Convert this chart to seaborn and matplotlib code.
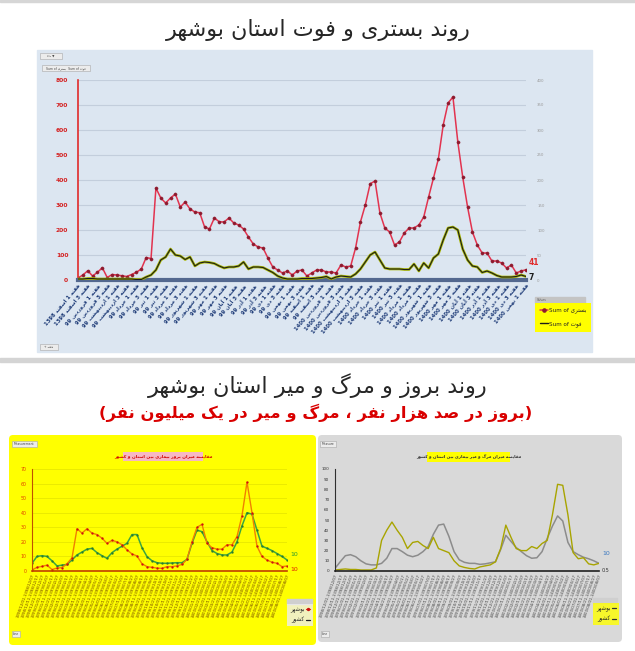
import re
import numpy as np
import pandas as pd
import matplotlib
matplotlib.use('Agg')
import matplotlib.pyplot as plt
import seaborn as sns
from matplotlib.patches import Rectangle, FancyBboxPatch
from matplotlib.lines import Line2D

# %% data - top chart (weekly, Esfand 1398 .. 1400)
hosp = [8, 20, 37, 16, 31, 49, 10, 22, 20, 17, 14, 22, 31, 44, 90, 86, 368,
        328, 308, 328, 344, 292, 312, 284, 272, 269, 212, 204, 248, 233, 232,
        248, 228, 220, 204, 172, 144, 132, 128, 88, 52, 40, 28, 36, 20, 36,
        40, 16, 28, 40, 40, 32, 32, 28, 60, 52, 56, 128, 232, 300, 385, 396,
        268, 208, 192, 140, 152, 188, 208, 208, 220, 252, 332, 408, 484, 620,
        708, 732, 552, 412, 292, 192, 140, 108, 108, 76, 76, 68, 48, 60, 28,
        36, 41]
death = [2, 2, 3, 3, 2, 2, 2, 2, 2, 2, 2, 2, 1, 1,
         6, 10, 20, 40, 46, 62, 50, 48, 41, 46, 28, 34, 36, 35, 33, 28, 24,
         26, 26, 28, 36,
         22, 26, 26, 25, 20, 15, 8, 4, 2, 2, 2, 3, 3, 3, 4,
         5, 7, 2, 6, 8, 7, 6, 12, 22, 36, 50, 56, 40, 24,
         22, 22, 22, 21, 21, 32, 18, 34, 24, 44, 52, 80, 104, 106, 100,
         62, 40, 28, 26, 15, 18, 14, 9, 6, 6, 6, 7, 10, 7]

months = ['اسفند', 'فروردین', 'اردیبهشت', 'خرداد', 'تیر', 'مرداد', 'شهریور',
          'مهر', 'آبان', 'آذر', 'دی', 'بهمن']

# %% data - bottom charts
inc_bushehr = [0.7, 2.5, 3.2, 4, 1, 2, 2.3, 5, 9, 29, 26, 29, 26, 25, 22.5, 19,
               21, 20, 18, 14.5, 11.7, 10.3, 5, 3, 2.5, 2, 1.8, 3, 3, 3.5, 4.5,
               8, 20, 30, 32, 19, 16, 15, 15, 18, 18, 23.6, 38, 61, 40, 17, 10,
               7.5, 6, 5.3, 3, 3.4]
inc_country = [5.3, 10, 10.5, 10, 7, 3.5, 4, 4.5, 7.6, 11, 13, 15, 15.5, 12.6,
               10.5, 8.7, 12.6, 15, 17, 19, 25, 25, 16, 9.9, 7, 5.7, 5.3, 5.3,
               5.5, 5.7, 5.7, 8, 19, 28, 27, 20, 14, 12, 11, 11, 13, 20, 31, 40,
               39, 28, 17, 15.6, 14, 12, 10, 7.6]
mort_bushehr = [1, 1.5, 2, 1.5, 1.5, 1, 1, 1, 3, 30, 40, 48, 40, 33, 22, 28, 29,
                25, 22, 33, 22, 20, 18, 10, 5, 3.5, 2.5, 2, 4, 5, 6, 9, 22, 45,
                33, 22, 20, 20, 24, 22, 27, 30, 55, 85, 84, 55, 18, 12, 13, 7,
                6, 7.5]
mort_country = [2.6, 9, 15, 16, 14, 10, 7, 6, 6, 7.5, 12.5, 22, 22, 19, 15.5, 14,
                15.5, 19, 24, 36, 45, 46, 34, 19, 11, 8.5, 7.5, 7.5, 6.5, 7, 8,
                9, 21, 35, 29, 23, 19, 15, 12.5, 13, 19, 32, 44, 54, 49, 28, 19,
                16, 13.5, 12, 10, 7.5]

# %% persian shaping (no reshaper lib available)
FORMS = {
    'ا': ('\uFE8D', '\uFE8E', None, None),
    'آ': ('\uFE81', '\uFE82', None, None),
    'ب': ('\uFE8F', '\uFE90', '\uFE91', '\uFE92'),
    'ت': ('\uFE95', '\uFE96', '\uFE97', '\uFE98'),
    'خ': ('\uFEA5', '\uFEA6', '\uFEA7', '\uFEA8'),
    'د': ('\uFEA9', '\uFEAA', None, None),
    'ذ': ('\uFEAB', '\uFEAC', None, None),
    'ر': ('\uFEAD', '\uFEAE', None, None),
    'ز': ('\uFEAF', '\uFEB0', None, None),
    'س': ('\uFEB1', '\uFEB2', '\uFEB3', '\uFEB4'),
    'ش': ('\uFEB5', '\uFEB6', '\uFEB7', '\uFEB8'),
    'ص': ('\uFEB9', '\uFEBA', '\uFEBB', '\uFEBC'),
    'ف': ('\uFED1', '\uFED2', '\uFED3', '\uFED4'),
    'ق': ('\uFED5', '\uFED6', '\uFED7', '\uFED8'),
    'ل': ('\uFEDD', '\uFEDE', '\uFEDF', '\uFEE0'),
    'م': ('\uFEE1', '\uFEE2', '\uFEE3', '\uFEE4'),
    'ن': ('\uFEE5', '\uFEE6', '\uFEE7', '\uFEE8'),
    'ه': ('\uFEE9', '\uFEEA', '\uFEEB', '\uFEEC'),
    'و': ('\uFEED', '\uFEEE', None, None),
    'ی': ('\uFBFC', '\uFBFD', '\uFBFE', '\uFBFF'),
    'ک': ('\uFB8E', '\uFB8F', '\uFB90', '\uFB91'),
    'گ': ('\uFB92', '\uFB93', '\uFB94', '\uFB95'),
}


def fa(s):
    out = []
    for i, c in enumerate(s):
        if c not in FORMS:
            out.append(c)
            continue
        f = FORMS[c]
        prev = s[i - 1] if i > 0 else None
        nxt = s[i + 1] if i + 1 < len(s) else None
        jp = prev in FORMS and FORMS[prev][2] is not None
        jn = f[2] is not None and nxt in FORMS
        if jp and jn:
            out.append(f[3])
        elif jp:
            out.append(f[1])
        elif jn:
            out.append(f[2])
        else:
            out.append(f[0])
    vis = ''.join(out)[::-1]
    vis = re.sub(r'[0-9/.]+', lambda m: m.group()[::-1], vis)
    return vis.translate(str.maketrans('()', ')('))


# %% labels
n = len(hosp)
wk = np.arange(n)
top_labels = []
for i in range(n):
    m = i // 4
    yr = '1398' if m == 0 else ('99' if m <= 12 else '1400')
    top_labels.append(fa('هفته %d %s %s' % (i % 4 + 1, months[m % 12], yr)))

nb = len(inc_bushehr)
kb = np.arange(nb)
bot_labels = []
for k in range(nb):
    mm = (k * 21) // nb
    yr = 1398 if mm == 0 else (1399 if mm <= 12 else 1400)
    mo = 12 if mm == 0 else ((mm - 1) % 12 + 1)
    bot_labels.append('%d/%02d/%02d-%d/%02d/%02d' % (yr, mo, 1 + (k % 3) * 10, yr, mo, 7 + (k % 3) * 10))

# %% figure
sns.set_theme(style='white')
plt.rcParams['font.family'] = ['DejaVu Sans']
W, H = 635, 651
fig = plt.figure(figsize=(W / 100, H / 100), dpi=100)
fig.patch.set_facecolor('white')


def rect(x0, y0, x1, y1):
    return [x0 / W, 1 - y1 / H, (x1 - x0) / W, (y1 - y0) / H]


bg = fig.add_axes([0, 0, 1, 1])
bg.set_xlim(0, W)
bg.set_ylim(H, 0)
bg.axis('off')

# panels and separators
bg.add_patch(Rectangle((0, 0), W, 2, color='#d6d6d6'))
bg.add_patch(Rectangle((37, 50), 555, 302, color='#dce6f1'))
bg.add_patch(Rectangle((0, 358), W, 4, color='#d4d4d4'))
bg.add_patch(FancyBboxPatch((9, 435), 307, 210, boxstyle='round,pad=0,rounding_size=4',
                            fc='#ffff00', ec='none'))
bg.add_patch(FancyBboxPatch((318, 435), 304, 207, boxstyle='round,pad=0,rounding_size=4',
                            fc='#d9d9d9', ec='none'))

bg.text(318, 30, fa('روند بستری و فوت استان بوشهر'), ha='center', va='center', fontsize=16)
bg.text(318, 386, fa('روند بروز و مرگ و میر استان بوشهر'), ha='center', va='center', fontsize=16)
bg.text(316, 413, fa('(بروز در صد هزار نفر ، مرگ و میر در یک میلیون نفر)'), ha='center',
        va='center', fontsize=11.8, fontweight='bold', color='#d90000')

# little pivot-chart buttons
for (x0, y0, x1, y1, t) in [(40, 53, 62, 59, fa('ماه') + ' \u25bc'),
                            (42, 65, 90, 71, 'Sum of ' + fa('بستری') + '  Sum of ' + fa('فوت')),
                            (40, 344, 58, 350, '+ ' + fa('هفته')),
                            (12, 441, 37, 447, 'Measurement'),
                            (320, 441, 336, 447, 'Measure'),
                            (12, 631, 20, 637, 'Line'),
                            (321, 631, 329, 637, 'Line')]:
    bg.add_patch(Rectangle((x0, y0), x1 - x0, y1 - y0, fc='#ececec', ec='#a8a8a8', lw=0.4))
    bg.text((x0 + x1) / 2, (y0 + y1) / 2, t, fontsize=2.2, ha='center', va='center', color='#444444')

# %% top chart
ax = fig.add_axes(rect(78, 80, 526, 280))
ax.patch.set_alpha(0)
sns.lineplot(x=wk, y=hosp, ax=ax, color='#e2334f', linewidth=1.1, marker='o', markersize=2.3,
             markerfacecolor='#8e1b2f', markeredgecolor='#8e1b2f', markeredgewidth=0.3)
ax.set_xlim(0, n - 1)
ax.set_ylim(0, 800)
ax.set_yticks(range(0, 801, 100))
ax.grid(axis='y', color='#c3cedc', linewidth=0.8)
ax.grid(axis='x', visible=False)
ax.set_xticks(wk[::2])
ax.set_xticklabels(top_labels[::2], rotation=50, ha='right', rotation_mode='anchor',
                   fontsize=3.8, fontweight='bold', color='#1f3c78')
ax.tick_params(axis='y', labelcolor='#d42020', labelsize=4.3, length=0, pad=7)
ax.tick_params(axis='x', length=0, pad=2)
for lb in ax.get_yticklabels():
    lb.set_fontweight('bold')
for s in ['top', 'right']:
    ax.spines[s].set_visible(False)
ax.spines['left'].set_color('#e02a2a')
ax.spines['left'].set_linewidth(1.2)
ax.spines['bottom'].set_color('#53688f')
ax.spines['bottom'].set_linewidth(3)
ax.set_xlabel('')
ax.set_ylabel('')
ax.annotate(str(hosp[-1]), (n - 1, hosp[-1]), xytext=(2, 5), textcoords='offset points',
            color='#e02a2a', fontsize=5.5, fontweight='bold', va='center', ha='left')

ax2 = ax.twinx()
sns.lineplot(x=wk, y=death, ax=ax2, color='#a9b800', linewidth=1.9)
sns.lineplot(x=wk, y=death, ax=ax2, color='#1c1c1c', linewidth=0.8)
ax2.set_ylim(0, 400)
ax2.set_yticks(range(0, 401, 50))
ax2.tick_params(axis='y', labelcolor='#9a9a9a', labelsize=2.8, length=0, pad=8)
for s in ax2.spines.values():
    s.set_visible(False)
ax2.set_ylabel('')
ax2.annotate(str(death[-1]), (n - 1, death[-1]), xytext=(2, -1), textcoords='offset points',
             color='#1c1c1c', fontsize=5.5, fontweight='bold', va='center', ha='left')

top_handles = [Line2D([], [], color='#e2334f', lw=1.1, marker='o', ms=2.3,
                      mfc='#8e1b2f', mec='#8e1b2f'),
               Line2D([], [], color='#1c1c1c', lw=1.0)]
bg.add_patch(Rectangle((535, 297), 50, 6, color='#c4c4c4'))
bg.text(537, 300, 'Values', fontsize=2.2, va='center', color='#555555')
leg = fig.legend(top_handles, ['Sum of ' + fa('بستری'), 'Sum of ' + fa('فوت')],
                 loc='upper left', bbox_to_anchor=(535 / W, 1 - 303 / H), fontsize=4.1,
                 frameon=True, facecolor='#ffff00', edgecolor='none', fancybox=False,
                 handlelength=1.4, handletextpad=0.3, borderpad=0.8, labelspacing=1.4,
                 borderaxespad=0)
leg.get_frame().set_alpha(1)

# %% bottom left: incidence
ax3 = fig.add_axes(rect(32, 469, 287, 571))
ax3.patch.set_alpha(0)
sns.lineplot(x=kb, y=inc_country, ax=ax3, color='#3aa640', linewidth=1.1, marker='o',
             markersize=1.4, markerfacecolor='#2b7a2f', markeredgecolor='#2b7a2f',
             markeredgewidth=0.2)
sns.lineplot(x=kb, y=inc_bushehr, ax=ax3, color='#f08000', linewidth=1.0, marker='o',
             markersize=1.4, markerfacecolor='#cc1010', markeredgecolor='#cc1010',
             markeredgewidth=0.2)
ax3.set_xlim(0, nb - 1)
ax3.set_ylim(0, 70)
ax3.set_yticks(range(0, 71, 10))
ax3.grid(axis='y', color='#e8e800', linewidth=0.6)
ax3.grid(axis='x', visible=False)
ax3.set_xticks(kb)
ax3.set_xticklabels(bot_labels, rotation=70, ha='right', rotation_mode='anchor',
                    fontsize=2.8, color='#6a3a00')
ax3.tick_params(axis='y', labelcolor='#e04000', labelsize=3.4, length=0, pad=4)
ax3.tick_params(axis='x', length=0, pad=2)
for s in ['top', 'right']:
    ax3.spines[s].set_visible(False)
ax3.spines['left'].set_color('#c05000')
ax3.spines['left'].set_linewidth(0.8)
ax3.spines['bottom'].set_color('#c04000')
ax3.spines['bottom'].set_linewidth(1.2)
ax3.set_xlabel('')
ax3.set_ylabel('')
ax3.text(nb - 1 + 0.6, inc_country[-1] + 4, '10', color='#2a9a30', fontsize=4.5, va='center')
ax3.text(nb - 1 + 0.6, inc_bushehr[-1] - 2.5, '10', color='#e02000', fontsize=4.5, va='center')

bg.add_patch(Rectangle((123, 452), 80, 9, fc='#f6b8c4', ec='none'))
bg.text(163, 456.5, fa('مقایسه میزان بروز بیماری بین استان و کشور'), fontsize=3.2,
        ha='center', va='center', color='#d00000', fontweight='bold')

h_l = [Line2D([], [], color='#e03000', lw=0.9, marker='o', ms=1.4, mfc='#cc1010', mec='#cc1010'),
       Line2D([], [], color='#202020', lw=0.9)]
bg.add_patch(Rectangle((287, 599), 25, 5, color='#cfcfcf'))
leg3 = fig.legend(h_l, [fa('بوشهر'), fa('کشور')], loc='upper left',
                  bbox_to_anchor=(287 / W, 1 - 604 / H), fontsize=4, frameon=True,
                  facecolor='#eeeeee', edgecolor='none', fancybox=False, markerfirst=False,
                  handlelength=0.8, handletextpad=0.3, borderpad=0.5, labelspacing=0.8,
                  borderaxespad=0)

# %% bottom right: mortality
ax4 = fig.add_axes(rect(335, 469, 599, 571))
ax4.patch.set_alpha(0)
sns.lineplot(x=kb, y=mort_country, ax=ax4, color='#8c8c8c', linewidth=1.1)
sns.lineplot(x=kb, y=mort_bushehr, ax=ax4, color='#a8a400', linewidth=1.0)
ax4.set_xlim(0, nb - 1)
ax4.set_ylim(0, 100)
ax4.set_yticks(range(0, 101, 10))
ax4.grid(axis='y', visible=False)
ax4.grid(axis='x', visible=False)
ax4.set_xticks(kb)
ax4.set_xticklabels(bot_labels, rotation=70, ha='right', rotation_mode='anchor',
                    fontsize=2.8, color='#404040')
ax4.tick_params(axis='y', labelcolor='#303030', labelsize=3.0, length=0, pad=4)
ax4.tick_params(axis='x', length=0, pad=2)
for s in ['top', 'right']:
    ax4.spines[s].set_visible(False)
ax4.spines['left'].set_color('#303030')
ax4.spines['left'].set_linewidth(0.8)
ax4.spines['bottom'].set_color('#202020')
ax4.spines['bottom'].set_linewidth(1.2)
ax4.set_xlabel('')
ax4.set_ylabel('')
ax4.text(nb - 1 + 0.6, 17, '10', color='#3a78c0', fontsize=4.5, va='center')
ax4.text(nb - 1 + 0.6, 0, '0.5', color='#303030', fontsize=3.5, va='center')

bg.add_patch(Rectangle((427, 452), 83, 10, fc='#ffff00', ec='none'))
bg.text(468.5, 457, fa('مقایسه میزان مرگ و میر بیماری بین استان و کشور'), fontsize=3.0,
        ha='center', va='center', color='#303030', fontweight='bold')

h_r = [Line2D([], [], color='#303030', lw=0.9), Line2D([], [], color='#303030', lw=0.9)]
bg.add_patch(Rectangle((593, 598), 24, 5, color='#cfcfcf'))
leg4 = fig.legend(h_r, [fa('بوشهر'), fa('کشور')], loc='upper left',
                  bbox_to_anchor=(593 / W, 1 - 603 / H), fontsize=4, frameon=True,
                  facecolor='#ffff00', edgecolor='none', fancybox=False, markerfirst=False,
                  handlelength=0.8, handletextpad=0.3, borderpad=0.5, labelspacing=0.8,
                  borderaxespad=0)

fig.savefig('out.png', dpi=100, facecolor='white')
